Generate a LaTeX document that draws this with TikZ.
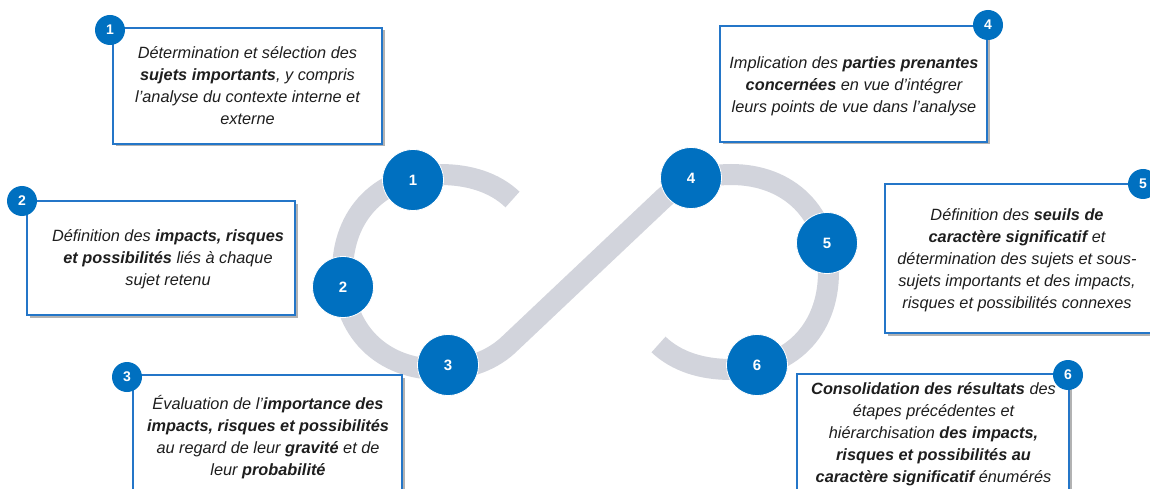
\documentclass[tikz,border=0pt]{standalone}
\usepackage{fontspec}
\setmainfont{Liberation Sans}
\usetikzlibrary{shadows}
\definecolor{bandgray}{RGB}{210,212,220}
\definecolor{stepblue}{RGB}{0,112,192}
\definecolor{boxblue}{RGB}{36,118,200}
\definecolor{txt}{RGB}{30,30,30}
\begin{document}
\begin{tikzpicture}[x=1pt,y=1pt,
  stepdot/.style={circle, fill=stepblue, draw=white, line width=0.8pt, minimum size=61pt, inner sep=0pt, text=white, font=\fontsize{15}{15}\selectfont\bfseries},
  badge/.style={circle, fill=stepblue, minimum size=30pt, inner sep=0pt, text=white, font=\fontsize{14}{14}\selectfont\bfseries},
  infobox/.style={rectangle, draw=boxblue, line width=1.3pt, fill=white, inner sep=0pt, drop shadow={shadow xshift=2.5pt, shadow yshift=-2.5pt, opacity=0.3, fill=black}},
  infotext/.style={align=center, text=txt, inner sep=0pt, font=\fontsize{16.3}{22}\selectfont\itshape},
]
\useasboundingbox (0,0) rectangle (1150,488);
\clip (0,0) rectangle (1150,488);
\fill[white] (0,0) rectangle (1150,488);

% gray infinity band
\draw[bandgray, line width=21pt]
 (512.5,288.5) .. controls (494.6,305.5) and (469.25,313.5) .. (440,313.5)
 .. controls (381.5,313.5) and (342.5,274.5) .. (342.5,216)
 .. controls (342.5,157.5) and (381.5,118.5) .. (440,118.5)
 .. controls (469.25,118.5) and (493.6,128.25) .. (510.7,145.3)
 -- (660.3,286.7)
 .. controls (677.4,303.75) and (701.75,313.5) .. (731,313.5)
 .. controls (789.5,313.5) and (828.5,274.5) .. (828.5,216)
 .. controls (828.5,157.5) and (789.5,118.5) .. (731,118.5)
 .. controls (701.75,118.5) and (676.4,126.5) .. (658.5,143.5);

% step circles
\node[stepdot] (c1) at (413,308) {1};
\node[stepdot] (c2) at (343,201) {2};
\node[stepdot] (c3) at (448,123) {3};
\node[stepdot] (c4) at (691,310) {4};
\node[stepdot] (c5) at (827,245) {5};
\node[stepdot] (c6) at (757,123) {6};

% boxes
\node[infobox, minimum width=269pt, minimum height=116pt] (b1) at (247.5,402) {};
\node[infobox, minimum width=268pt, minimum height=114pt] (b2) at (161,230) {};
\node[infobox, minimum width=269pt, minimum height=124pt] (b3) at (267.5,51) {};
\node[infobox, minimum width=267pt, minimum height=116pt] (b4) at (853.5,404) {};
\node[infobox, minimum width=275pt, minimum height=149pt] (b5) at (1022.5,229.5) {};
\node[infobox, minimum width=272pt, minimum height=120pt] (b6) at (933,54) {};

% texts
\node[infotext] (t1) at (247.5,402) {Détermination et sélection des\\\textbf{sujets importants}, y compris\\l'analyse du contexte interne et\\externe};
\node[infotext] (t2) at (168,229) {Définition des \textbf{impacts, risques}\\\textbf{et possibilités} liés à chaque\\sujet retenu};
\node[infotext] (t3) at (268,51) {Évaluation de l’\textbf{importance des}\\\textbf{impacts, risques et possibilités}\\au regard de leur \textbf{gravité} et de\\leur \textbf{probabilité}};
\node[infotext] (t4) at (854,402) {Implication des \textbf{parties prenantes}\\\textbf{concernées} en vue d'intégrer\\leurs points de vue dans l'analyse};
\node[infotext] (t5) at (1017,228) {Définition des \textbf{seuils de}\\\textbf{caractère significatif} et\\détermination des sujets et sous-\\sujets importants et des impacts,\\risques et possibilités connexes};
\node[infotext] (t6) at (933.5,54) {\textbf{Consolidation des résultats} des\\étapes précédentes et\\hiérarchisation \textbf{des impacts,}\\\textbf{risques et possibilités au}\\\textbf{caractère significatif} énumérés};

% badges
\node[badge] (n1) at (110,458) {1};
\node[badge] (n2) at (22,287) {2};
\node[badge] (n3) at (127,111) {3};
\node[badge] (n4) at (988,463) {4};
\node[badge] (n5) at (1143,304) {5};
\node[badge] (n6) at (1068,113) {6};
\end{tikzpicture}
\end{document}
